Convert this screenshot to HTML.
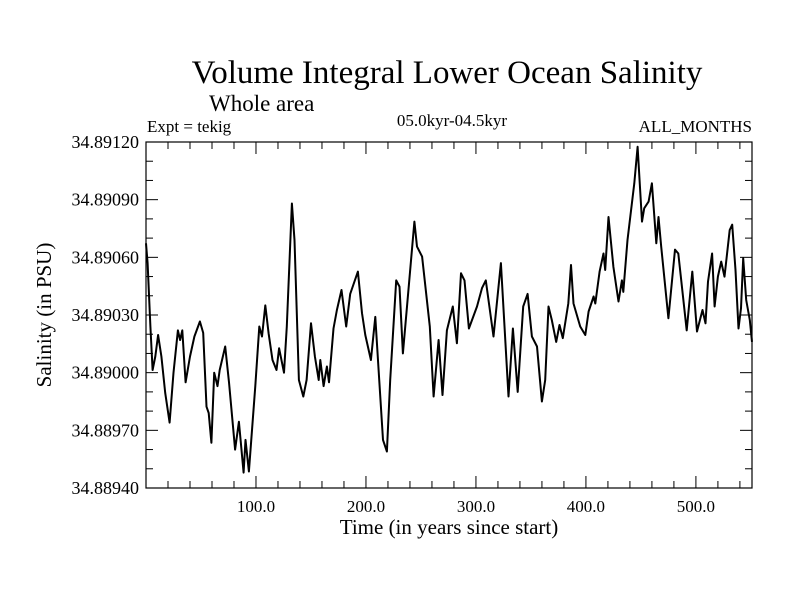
<!DOCTYPE html>
<html><head><meta charset="utf-8"><style>
body{margin:0;background:#fff;}
svg{display:block;font-family:"Liberation Serif",serif;}
</style></head><body>
<svg id="chart" width="800" height="600">
<rect width="800" height="600" fill="#fff"/>
<text x="447" y="83" font-size="33" text-anchor="middle">Volume Integral Lower Ocean Salinity</text>
<text x="209" y="111" font-size="23">Whole area</text>
<text x="147" y="132" font-size="17">Expt = tekig</text>
<text x="452" y="126" font-size="17" text-anchor="middle">05.0kyr-04.5kyr</text>
<text x="752" y="132" font-size="17" text-anchor="end">ALL_MONTHS</text>
<text x="449" y="534" font-size="21" text-anchor="middle">Time (in years since start)</text>
<text transform="translate(51,315) rotate(-90)" font-size="21" text-anchor="middle">Salinity (in PSU)</text>
<g id="axes"></g>
<g id="plot"></g>
</svg>
<script>
const years=[0,1.5,4,6,8.5,11,14,17.5,21.5,25,29,31,33,36,40,44,49,52,55,57,59.5,62,65,67,72,75.5,81,84.5,88.7,90.5,93.6,99.4,103,105.5,108.5,111.5,115,118.7,121,125.5,128,132.7,135,139,143,146,150,153.6,157,158.5,161.5,164.5,166.4,170.5,173.6,177.8,182,185.7,192.7,196.4,199.4,204.5,208.5,211.5,215.5,219,222,227.5,230.5,233.6,237.3,244,246.4,251,258,261.5,266,269.6,273.6,279,282.7,286.4,289.6,293.6,301,305.5,309,316,322.7,329.6,333.6,338,343,347,350.9,355.5,360,363,366,369,373,376,379,384,386.4,388.7,394.8,399.4,402.4,407,408.5,412.4,416,417.5,420.5,425,429.6,432.7,434,437.8,444,447,451,453,457,460,464,466,468.4,475,481,484,491.6,496.7,501,506,508.7,511,514.7,517,520,523,526,530.7,533,536,538.7,541,543,545.7,549,551];
const salinity=[34.890673,34.890570,34.890240,34.890014,34.890084,34.890196,34.890084,34.889895,34.889740,34.890000,34.890220,34.890170,34.890220,34.889950,34.890084,34.890188,34.890266,34.890207,34.889823,34.889790,34.889635,34.890000,34.889930,34.890014,34.890136,34.889950,34.889600,34.889745,34.889480,34.889650,34.889486,34.889930,34.890240,34.890188,34.890350,34.890205,34.890066,34.890014,34.890127,34.890000,34.890240,34.890880,34.890690,34.889962,34.889876,34.889962,34.890257,34.890084,34.889962,34.890066,34.889930,34.890032,34.889950,34.890230,34.890326,34.890430,34.890240,34.890410,34.890526,34.890310,34.890196,34.890066,34.890290,34.890014,34.889650,34.889590,34.889962,34.890480,34.890448,34.890100,34.890344,34.890786,34.890656,34.890604,34.890240,34.889876,34.890170,34.889884,34.890220,34.890344,34.890153,34.890517,34.890480,34.890230,34.890344,34.890440,34.890480,34.890188,34.890570,34.889876,34.890230,34.889900,34.890344,34.890410,34.890188,34.890136,34.889850,34.889962,34.890344,34.890274,34.890160,34.890248,34.890180,34.890360,34.890560,34.890360,34.890240,34.890196,34.890318,34.890396,34.890360,34.890526,34.890620,34.890534,34.890810,34.890550,34.890370,34.890480,34.890420,34.890690,34.890985,34.891175,34.890786,34.890855,34.890890,34.890985,34.890673,34.890810,34.890656,34.890283,34.890640,34.890620,34.890220,34.890526,34.890214,34.890326,34.890257,34.890474,34.890620,34.890344,34.890500,34.890578,34.890500,34.890742,34.890770,34.890534,34.890230,34.890335,34.890595,34.890378,34.890274,34.890160];
const yTickValues=[34.8894,34.8897,34.89,34.8903,34.8906,34.8909,34.8912];
const yTickLabels=["34.88940","34.88970","34.89000","34.89030","34.89060","34.89090","34.89120"];
const xTickValues=[100,200,300,400,500];
const xTickLabels=["100.0","200.0","300.0","400.0","500.0"];
const L=146,R=752,T=142,B=488,XMIN=0,XMAX=551,YMIN=34.8894,YMAX=34.8912;
const NS='http://www.w3.org/2000/svg';
function xs(v){return L+(v-XMIN)/(XMAX-XMIN)*(R-L);}
function ys(v){return B-(v-YMIN)/(YMAX-YMIN)*(B-T);}
function mk(t,a,p){const e=document.createElementNS(NS,t);for(const k in a)e.setAttribute(k,a[k]);p.appendChild(e);return e;}
const ax=document.getElementById('axes'),pl=document.getElementById('plot');
const frame=mk('rect',{x:L,y:T,width:R-L,height:B-T,fill:'none',stroke:'#000','stroke-width':1.2},ax);


for(let v=20;v<XMAX;v+=20){const x=xs(v),len=(v%100===0)?12:7;
 const t1=mk('line',{x1:x,x2:x,y1:B,y2:B-len,stroke:'#000'},ax);
 
 
 const t2=mk('line',{x1:x,x2:x,y1:T,y2:T+len,stroke:'#000'},ax);
 
 }
for(let i=1;i<18;i++){const v=YMIN+i*0.0001,y=ys(v),len=(i%3===0)?12:7;
 const t1=mk('line',{x1:L,x2:L+len,y1:y,y2:y,stroke:'#000'},ax);
 
 
 const t2=mk('line',{x1:R,x2:R-len,y1:y,y2:y,stroke:'#000'},ax);
 
 }
xTickValues.forEach((v,i)=>{const t=mk('text',{x:xs(v),y:512,'font-size':17,'text-anchor':'middle'},ax);t.textContent=xTickLabels[i];
 
 });
yTickValues.forEach((v,i)=>{const t=mk('text',{x:139,y:ys(v)+6,'font-size':18,'text-anchor':'end'},ax);t.textContent=yTickLabels[i];
 
 });
const d=years.map((yr,i)=>(i?'L':'M')+xs(yr).toFixed(1)+','+ys(salinity[i]).toFixed(1)).join('');
const line=mk('path',{d:d,fill:'none',stroke:'#000','stroke-width':2,'stroke-linejoin':'round'},pl);


</script>
</body></html>
